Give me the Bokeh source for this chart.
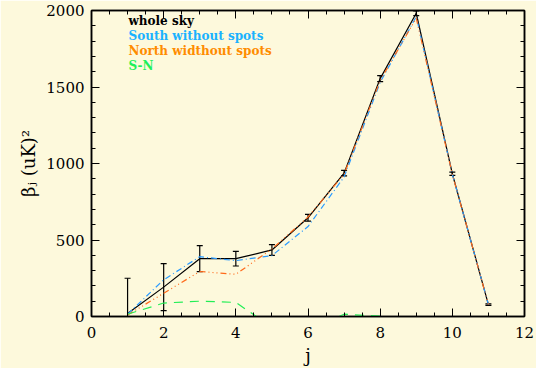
from bokeh.plotting import figure
from bokeh.models import (Range1d, LinearAxis, Label, SingleIntervalTicker,
                          ColumnDataSource, CustomJSTickFormatter)
from bokeh.embed import file_html
from bokeh.resources import INLINE

# multipole bins
j = [1, 2, 3, 4, 5, 6, 7, 8, 9, 10, 11]

# band power estimates, (uK)^2
whole_sky = [20, 192, 378, 378, 435, 645, 937, 1555, 1982, 933, 78]
whole_err = [230, 153, 85, 48, 35, 22, 18, 20, 15, 10, 5]
south_no_spots = [15, 240, 391, 365, 398, 588, 912, 1530, 1960, 930, 78]
north_no_spots = [10, 152, 294, 276, 441, 650, 930, 1542, 1950, 930, 78]
south_minus_north = [15, 88, 100, 92, -70, -85, 15, 2, -20, -5, 0]

BG = "#fdf9dc"
SERIF = "DejaVu Serif"

src = ColumnDataSource(dict(
    j=j, whole=whole_sky,
    lo=[v - e for v, e in zip(whole_sky, whole_err)],
    hi=[v + e for v, e in zip(whole_sky, whole_err)],
    south=south_no_spots, north=north_no_spots, sn=south_minus_north,
))

p = figure(width=536, height=368, x_range=Range1d(0, 12), y_range=Range1d(0, 2000),
           output_backend="svg", toolbar_location=None,
           x_axis_type=None, y_axis_type=None,
           min_border_left=91, min_border_right=12, min_border_top=10, min_border_bottom=51)
p.background_fill_color = BG
p.border_fill_color = BG
p.outline_line_color = "black"
p.outline_line_width = 1.5
p.xgrid.visible = False
p.ygrid.visible = False


def make_axis(ticker, labels, label_text="", standoff=8):
    ax = LinearAxis(ticker=ticker)
    ax.axis_line_color = "black"
    ax.axis_line_width = 1.5
    ax.major_tick_in = 8
    ax.major_tick_out = 0
    ax.minor_tick_in = 4
    ax.minor_tick_out = 0
    ax.major_tick_line_color = "black"
    ax.minor_tick_line_color = "black"
    ax.major_label_text_font = SERIF
    ax.major_label_text_color = "black"
    ax.major_label_text_font_size = "15px"
    if labels:
        ax.major_label_standoff = standoff
    else:
        # box-style ticks only, no numbers on the top / right edges
        ax.formatter = CustomJSTickFormatter(code="return ''")
        ax.major_label_standoff = 0
    if label_text:
        ax.axis_label = label_text
        ax.axis_label_text_font = SERIF
        ax.axis_label_text_font_style = "normal"
        ax.axis_label_text_font_size = "18px"
        ax.axis_label_text_color = "black"
        ax.axis_label_standoff = 4
    return ax


xt = lambda: SingleIntervalTicker(interval=2, num_minor_ticks=4)
yt = lambda: SingleIntervalTicker(interval=500, num_minor_ticks=5)

p.add_layout(make_axis(xt(), True, "j", standoff=10), "below")
p.add_layout(make_axis(yt(), True, "\u03b2\u2c7c (uK)\u00b2", standoff=7), "left")
p.add_layout(make_axis(xt(), False), "above")
p.add_layout(make_axis(yt(), False), "right")

# whole sky with error bars
p.line("j", "whole", source=src, line_color="black", line_width=1.2)
p.segment(x0="j", y0="lo", x1="j", y1="hi", source=src, line_color="black", line_width=1.2)
p.scatter("j", "lo", source=src, marker="dash", size=6, line_color="black", line_width=1.2)
p.scatter("j", "hi", source=src, marker="dash", size=6, line_color="black", line_width=1.2)
# hemispheres with spots removed
p.line("j", "south", source=src, line_color="#2a9bff", line_width=1.2, line_dash="6 3 1 3")
p.line("j", "north", source=src, line_color="#ff6a1a", line_width=1.2, line_dash="6 3 1 3 1 3 1 3")
# S-N difference
p.line("j", "sn", source=src, line_color="#22ee55", line_width=1.2, line_dash="9 7")

legend_items = [
    ("whole sky", "black"),
    ("South without spots", "#1ab2ff"),
    ("North widthout spots", "#ff8c00"),
    ("S-N", "#1ef05a"),
]
for i, (txt, col) in enumerate(legend_items):
    p.add_layout(Label(x=37, y=296 - i * 15.3, x_units="screen", y_units="screen",
                       text=txt, text_color=col, text_font=SERIF,
                       text_font_style="bold", text_font_size="12px",
                       text_baseline="middle"))

open("out.html", "w").write(file_html(p, INLINE))
